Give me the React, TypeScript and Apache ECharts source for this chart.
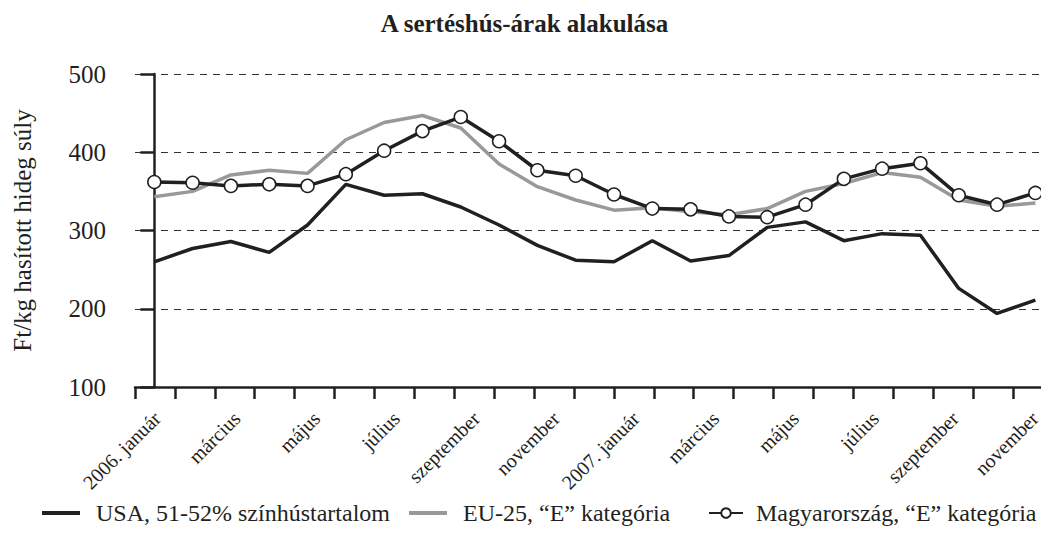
import React, { useEffect, useRef } from "react";
import * as echarts from "echarts";

const seriesNames = [
  "USA, 51-52% színhústartalom",
  "EU-25, \u201cE\u201d kategória",
  "Magyarország, \u201cE\u201d kategória",
];

// 24 months: 2006 January .. 2007 December
const usa = [260, 277, 286, 272, 307, 359, 345, 347, 330, 307, 281, 262, 260, 287, 261, 268, 304, 311, 287, 296, 294, 226, 194, 211];
const eu = [343, 350, 371, 377, 373, 416, 438, 447, 431, 385, 356, 339, 326, 329, 324, 320, 328, 350, 360, 374, 368, 339, 331, 335];
const hu = [362, 361, 357, 359, 357, 372, 402, 427, 445, 414, 377, 370, 346, 328, 327, 318, 317, 333, 366, 379, 386, 345, 333, 348];

const monthLabels = [
  "2006. január", "március", "május", "július", "szeptember", "november",
  "2007. január", "március", "május", "július", "szeptember", "november",
];

const yTicks = [100, 200, 300, 400, 500];

const FONT = "'Liberation Serif', 'Times New Roman', serif";
const INK = "#231f20";
const GREY = "#999999";

export default function App() {
  const ref = useRef<HTMLDivElement>(null);
  useEffect(() => {
    if (!ref.current) return;
    const chart = echarts.init(ref.current, undefined, { renderer: "svg" });
    const tickCount = monthLabels.length * 2 - 1; // 23 tick marks
    const tickValues = Array.from({ length: tickCount }, (_, k) => k);
    const labelValues = monthLabels.map((_, j) => 0.55 + 2 * j);
    const toPairs = (arr: number[]) => arr.map((v, i) => [i, v]);
    const legendText = { fontFamily: FONT, fontSize: 24, color: INK, padding: [0, 0, 0, 11] };
    chart.setOption({
      animation: false,
      textStyle: { fontFamily: FONT, color: INK },
      title: {
        text: "A sertéshús-árak alakulása",
        left: "center",
        top: 6,
        textStyle: { fontFamily: FONT, fontWeight: "bold", fontSize: 25, color: INK },
      },
      legend: [
        {
          data: [{ name: seriesNames[0], icon: "rect" }], left: 37, top: 496, itemWidth: 38, itemHeight: 4,
          textStyle: legendText,
        },
        {
          data: [{ name: seriesNames[1], icon: "rect" }], left: 404, top: 496, itemWidth: 38, itemHeight: 4,
          textStyle: legendText,
        },
        {
          data: [seriesNames[2]], left: 703, top: 496, itemWidth: 34, itemHeight: 12,
          textStyle: { ...legendText, padding: [0, 0, 0, 8] },
        },
      ],
      grid: { left: 135, right: 1, top: 74, bottom: 147, containLabel: false },
      xAxis: [
        { type: "value", min: -0.504, max: 23.33, show: false },
        {
          type: "value",
          min: 0,
          max: 22.88,
          position: "bottom",
          axisLine: { show: true, lineStyle: { color: INK, width: 2.5 } },
          axisTick: { show: true, customValues: tickValues, length: 12, lineStyle: { color: INK, width: 2.5 } },
          axisLabel: {
            show: true,
            customValues: labelValues,
            rotate: 45,
            margin: 28,
            fontFamily: FONT,
            fontSize: 20,
            color: INK,
            formatter: (v: number) => monthLabels[Math.round((v - 0.55) / 2)] ?? "",
          },
          splitLine: { show: false },
        },
      ],
      yAxis: {
        type: "value",
        min: yTicks[0],
        max: yTicks[yTicks.length - 1],
        interval: 100,
        name: "Ft/kg hasított hideg súly",
        nameLocation: "middle",
        nameGap: 100,
        nameTextStyle: { fontFamily: FONT, fontSize: 25, color: INK },
        axisLine: { show: true, lineStyle: { color: INK, width: 2.5 } },
        axisTick: { show: true, length: 14, lineStyle: { color: INK, width: 2.5 } },
        axisLabel: { margin: 29, fontFamily: FONT, fontSize: 25, color: INK },
        splitLine: { show: true, lineStyle: { color: "#333", width: 1, type: [7, 6] } },
      },
      series: [
        {
          name: seriesNames[1],
          type: "line",
          xAxisIndex: 0,
          data: toPairs(eu),
          symbol: "none",
          lineStyle: { color: GREY, width: 3.5 },
          itemStyle: { color: GREY },
        },
        {
          name: seriesNames[0],
          type: "line",
          xAxisIndex: 0,
          data: toPairs(usa),
          symbol: "none",
          lineStyle: { color: INK, width: 3.5 },
          itemStyle: { color: INK },
        },
        {
          name: seriesNames[2],
          type: "line",
          xAxisIndex: 0,
          data: toPairs(hu),
          symbol: "circle",
          symbolSize: 13,
          showSymbol: true,
          lineStyle: { color: INK, width: 3.5 },
          itemStyle: { color: "#ffffff", borderColor: INK, borderWidth: 1.5 },
        },
      ],
    });
    return () => chart.dispose();
  }, []);
  return <div ref={ref} style={{ width: 1049, height: 534, margin: -8 }} />;
}
